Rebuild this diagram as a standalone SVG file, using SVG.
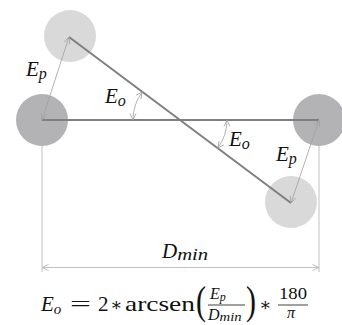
<svg xmlns="http://www.w3.org/2000/svg" width="342" height="325" viewBox="0 0 342 325">
<style>
.dark{fill:#b3b3b5}
.light{fill:#d9d9da}
.main{stroke:#7f7f7f;stroke-width:2;fill:none}
.thin{stroke:#a0a0a0;stroke-width:0.8;fill:none}
.dim{stroke:#c0c0c0;stroke-width:1;fill:none}
text{font-family:"Liberation Serif","DejaVu Serif",serif;fill:#111}
.it{font-style:italic}
</style>
<defs>
<marker id="ah" viewBox="0 0 8 8" refX="7.5" refY="4" markerWidth="8" markerHeight="8" markerUnits="userSpaceOnUse" orient="auto-start-reverse">
<path d="M1,1 L7.5,4 L1,7" fill="none" stroke="#a0a0a0" stroke-width="0.8"/>
</marker>
<marker id="ahd" viewBox="0 0 8 8" refX="7.5" refY="4" markerWidth="8" markerHeight="8" markerUnits="userSpaceOnUse" orient="auto-start-reverse">
<path d="M1,1 L7.5,4 L1,7" fill="none" stroke="#c0c0c0" stroke-width="1"/>
</marker>
</defs>
<g id="ext-lines">
<line class="dim" x1="42" y1="146" x2="42" y2="272"/>
<line class="dim" x1="319" y1="146" x2="319" y2="272"/>
</g>
<g id="circle-left"><circle class="dark" cx="42" cy="120" r="26"/></g>
<g id="circle-right"><circle class="dark" cx="319" cy="120" r="26"/></g>
<g id="circle-top"><circle class="light" cx="70" cy="36" r="26"/></g>
<g id="circle-bottom"><circle class="light" cx="291" cy="202" r="26"/></g>
<g id="connectors">
<line class="main" x1="42" y1="120" x2="319" y2="120"/>
<line class="main" x1="69" y1="37" x2="291" y2="203"/>
<line class="thin" x1="42" y1="120" x2="69" y2="37" marker-start="url(#ah)" marker-end="url(#ah)"/>
<line class="thin" x1="319" y1="120" x2="291" y2="203" marker-start="url(#ah)" marker-end="url(#ah)"/>
<path class="thin" d="M133,120 A47,47 0 0 1 142.4,91.8" marker-start="url(#ah)" marker-end="url(#ah)"/>
<path class="thin" d="M227,120 A47,47 0 0 1 217.6,148.2" marker-start="url(#ah)" marker-end="url(#ah)"/>
<line class="dim" x1="42" y1="267.5" x2="319" y2="267.5" marker-start="url(#ahd)" marker-end="url(#ahd)"/>
</g>
<g id="labels">
<text class="it" x="26" y="76" font-size="21">E<tspan font-size="16" dy="3">p</tspan></text>
<text class="it" x="105" y="103" font-size="21">E<tspan font-size="16" dy="3">o</tspan></text>
<text class="it" x="229" y="146" font-size="21">E<tspan font-size="16" dy="3">o</tspan></text>
<text class="it" x="276" y="161" font-size="21">E<tspan font-size="16" dy="3">p</tspan></text>
<text class="it" x="162" y="258" font-size="21">D<tspan font-size="16" dy="2" textLength="31" lengthAdjust="spacingAndGlyphs">min</tspan></text>
</g>
<g id="formula">
<text class="it" x="41" y="311" font-size="21">E<tspan font-size="15" dy="3">o</tspan></text>
<text x="70" y="311" font-size="21" textLength="21" lengthAdjust="spacingAndGlyphs">=</text>
<text x="98" y="311" font-size="21">2</text>
<text x="110" y="311" font-size="18">∗</text>
<text x="125" y="311" font-size="21" textLength="70" lengthAdjust="spacingAndGlyphs">arcsen</text>
<text x="196" y="0" font-size="21" transform="translate(0,314) scale(1,1.9)" textLength="10" lengthAdjust="spacingAndGlyphs">(</text>
<text class="it" x="210" y="299" font-size="16">E<tspan font-size="12" dy="2">p</tspan></text>
<line x1="208" y1="305" x2="245" y2="305" stroke="#111" stroke-width="0.8"/>
<text class="it" x="208" y="320" font-size="16">D<tspan font-size="12" dy="1" textLength="22" lengthAdjust="spacingAndGlyphs">min</tspan></text>
<text x="246" y="0" font-size="21" transform="translate(0,314) scale(1,1.9)" textLength="10" lengthAdjust="spacingAndGlyphs">)</text>
<text x="259" y="311" font-size="18">∗</text>
<text x="279" y="299" font-size="16" textLength="28" lengthAdjust="spacingAndGlyphs">180</text>
<line x1="278" y1="305" x2="308" y2="305" stroke="#111" stroke-width="0.8"/>
<text class="it" x="287" y="318" font-size="16">π</text>
</g>
</svg>
